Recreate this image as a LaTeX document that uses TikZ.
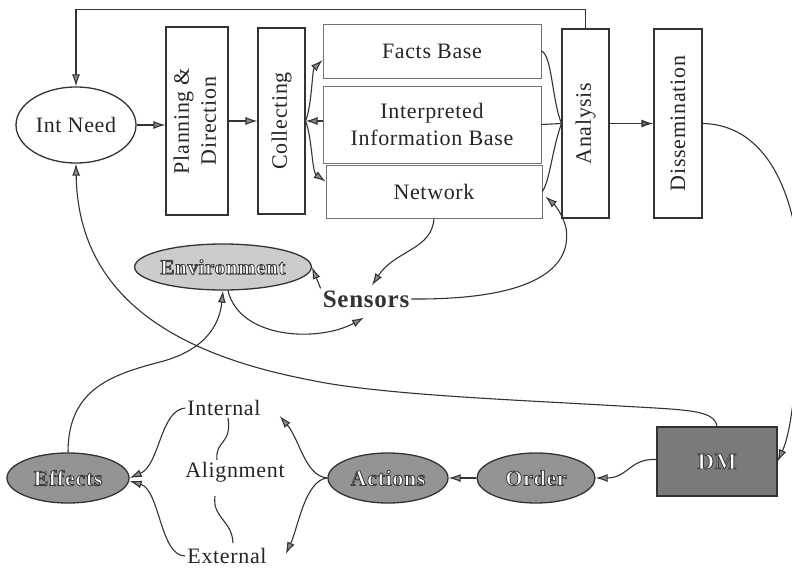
\documentclass[tikz,border=0pt]{standalone}
\usepackage{fontspec}
\setmainfont{Liberation Serif}[LetterSpace=3]
\usetikzlibrary{shapes.geometric,arrows.meta}

% white letters with a dark rim (fill + stroke text rendering)
\newcommand\outlined[1]{\textcolor{white}{\special{pdf:literal direct 0.25 G 0.9 w 2 Tr}#1\special{pdf:literal direct 0 Tr}}}

\tikzset{
  lbl/.style={font=\fontsize{22}{27}\selectfont, text=black!85},
  box/.style={draw=black!80, line width=1.1pt, fill=white, inner sep=0pt, lbl},
  tbox/.style={draw=black!55, line width=0.8pt, fill=white, inner sep=0pt, lbl},
  oval/.style={ellipse, draw=black!80, line width=1.3pt, inner sep=0pt},
  darkoval/.style={oval, fill=black!42, font=\bfseries\fontsize{22}{26}\selectfont},
  plain/.style={lbl, inner sep=2pt},
  con/.style={draw=black!80, line width=1.1pt},
  arr/.style={con, -{Latex[length=12pt,width=8pt,fill=black!45]}},
}

\begin{document}
\begin{tikzpicture}[x=1pt,y=-1pt]
\fill[white] (0,0) rectangle (792,570);
\useasboundingbox (0,0) rectangle (792,570);

% upper chain of boxes
\node[oval, lbl, minimum width=120pt, minimum height=76pt] (intneed) at (76,125) {Int Need};
\node[box, minimum width=62pt, minimum height=188pt] (plan) at (197,121)
  {\rotatebox{90}{\begin{tabular}{@{}c@{}}Planning \&\\Direction\end{tabular}}};
\node[box, minimum width=47pt, minimum height=186pt] (collect) at (281.5,121) {\rotatebox{90}{Collecting}};
\node[tbox, minimum width=218pt, minimum height=54pt] (facts) at (432,51) {Facts Base};
\node[tbox, minimum width=218pt, minimum height=77pt, align=center] (interp) at (432,124.5) {Interpreted\\Information Base};
\node[tbox, minimum width=216pt, minimum height=53pt] (network) at (434,191.5) {Network};
\node[box, minimum width=47pt, minimum height=189pt] (analysis) at (585.5,123.5) {\rotatebox{90}{Analysis}};
\node[box, minimum width=48pt, minimum height=189pt] (dissem) at (678,123.5) {\rotatebox{90}{Dissemination}};

% middle
\node[font=\bfseries\fontsize{25}{28}\selectfont, text=black!80, inner sep=2pt] (sensors) at (366,299) {Sensors};
\node[oval, fill=black!20, minimum width=160pt, minimum height=46pt,
      font=\bfseries\fontsize{21}{25}\selectfont] (env) at (223,267) {\outlined{Environment}};

% lower row
\node[darkoval, minimum width=122pt, minimum height=50pt] (effects) at (68,478) {\outlined{Effects}};
\node[darkoval, minimum width=120pt, minimum height=50pt] (actions) at (388,478) {\outlined{Actions}};
\node[darkoval, minimum width=118pt, minimum height=50pt] (order) at (536,478) {\outlined{Order}};
\node[draw=black!80, line width=1.2pt, fill=black!52, minimum width=120pt, minimum height=69pt,
      font=\bfseries\fontsize{23}{26}\selectfont] (dm) at (717,461.5) {\outlined{DM}};
\node[plain] (internal) at (224,408) {Internal};
\node[plain] (alignment) at (235,472) {Alignment};
\node[plain] (external) at (227,556) {External};

% connectors of the upper chain
\draw[arr] (intneed.east) -- (intneed.east -| plan.west);
\draw[arr] (plan.east) -- (plan.east -| collect.west);
\draw[arr] (interp.west |- collect.east) -- (collect.east);
\draw[arr] (collect.east) .. controls (312,105) and (312,70) .. ([yshift=-9pt]facts.west);
\draw[arr] (collect.east) .. controls (312,137) and (312,172) .. ([yshift=10pt]network.west);
\draw[con] (facts.east) .. controls (552,55) and (552,100) .. (analysis.west);
\draw[con] (interp.east) -- (analysis.west);
\draw[con] (network.east) .. controls (550,180) and (552,150) .. (analysis.west);
\draw[arr, line width=1.7pt] (analysis.east) -- (dissem.west);
\draw[arr] (analysis.north) -- ++(0,-19) -| (intneed.north);

% sensing loop
\draw[arr] (sensors.east) .. controls (540,300) and (572,265) .. (566,228)
           .. controls (563,215) and (555,205) .. ([xshift=3pt,yshift=-5pt]network.east);
\draw[arr] (network.south) .. controls (432,250) and (395,250) .. ([xshift=6pt,yshift=3pt]sensors.north);
\draw[arr] (sensors.north west) -- (env.east);
\draw[arr] ([xshift=5pt]env.south) .. controls (240,340) and (320,342) .. ([xshift=-2pt,yshift=-8pt]sensors.south);
\draw[arr] (effects.north) .. controls (68,390) and (110,375) .. (160,362)
           .. controls (210,349) and (220,320) .. (env.south);

% decision loop
\draw[arr] (dm.north) .. controls (714,410) and (690,410) .. (620,406)
           .. controls (520,400) and (380,395) .. (310,380)
           .. controls (180,355) and (78,300) .. (intneed.south);
\draw[arr] (dissem.east) .. controls (778,125) and (806,220) .. (800,320)
           .. controls (796,380) and (792,430) .. (dm.east);
\draw[arr] ([yshift=2pt]dm.west) .. controls (630,458) and (628,478) .. (order.east);
\draw[arr] (order.west) -- (actions.east);
\draw[arr] (actions.west) .. controls (305,476) and (300,440) .. ([xshift=17pt,yshift=-8pt]internal.east);
\draw[arr] (actions.west) .. controls (305,480) and (298,528) .. ([xshift=17pt,yshift=2pt]external.east);
\draw[arr] (internal.west) .. controls (160,410) and (160,465) .. (effects.east);
\draw[arr] (external.west) .. controls (160,556) and (160,490) .. ([yshift=-3pt]effects.east);
\draw[con] ([xshift=4pt]internal.south) .. controls (232,445) and (215,440) .. ([xshift=-18pt]alignment.north);
\draw[con] ([xshift=-20pt,yshift=-12pt]alignment.south) .. controls (212,518) and (232,520) .. ([xshift=6pt,yshift=3pt]external.north);
\end{tikzpicture}
\end{document}
